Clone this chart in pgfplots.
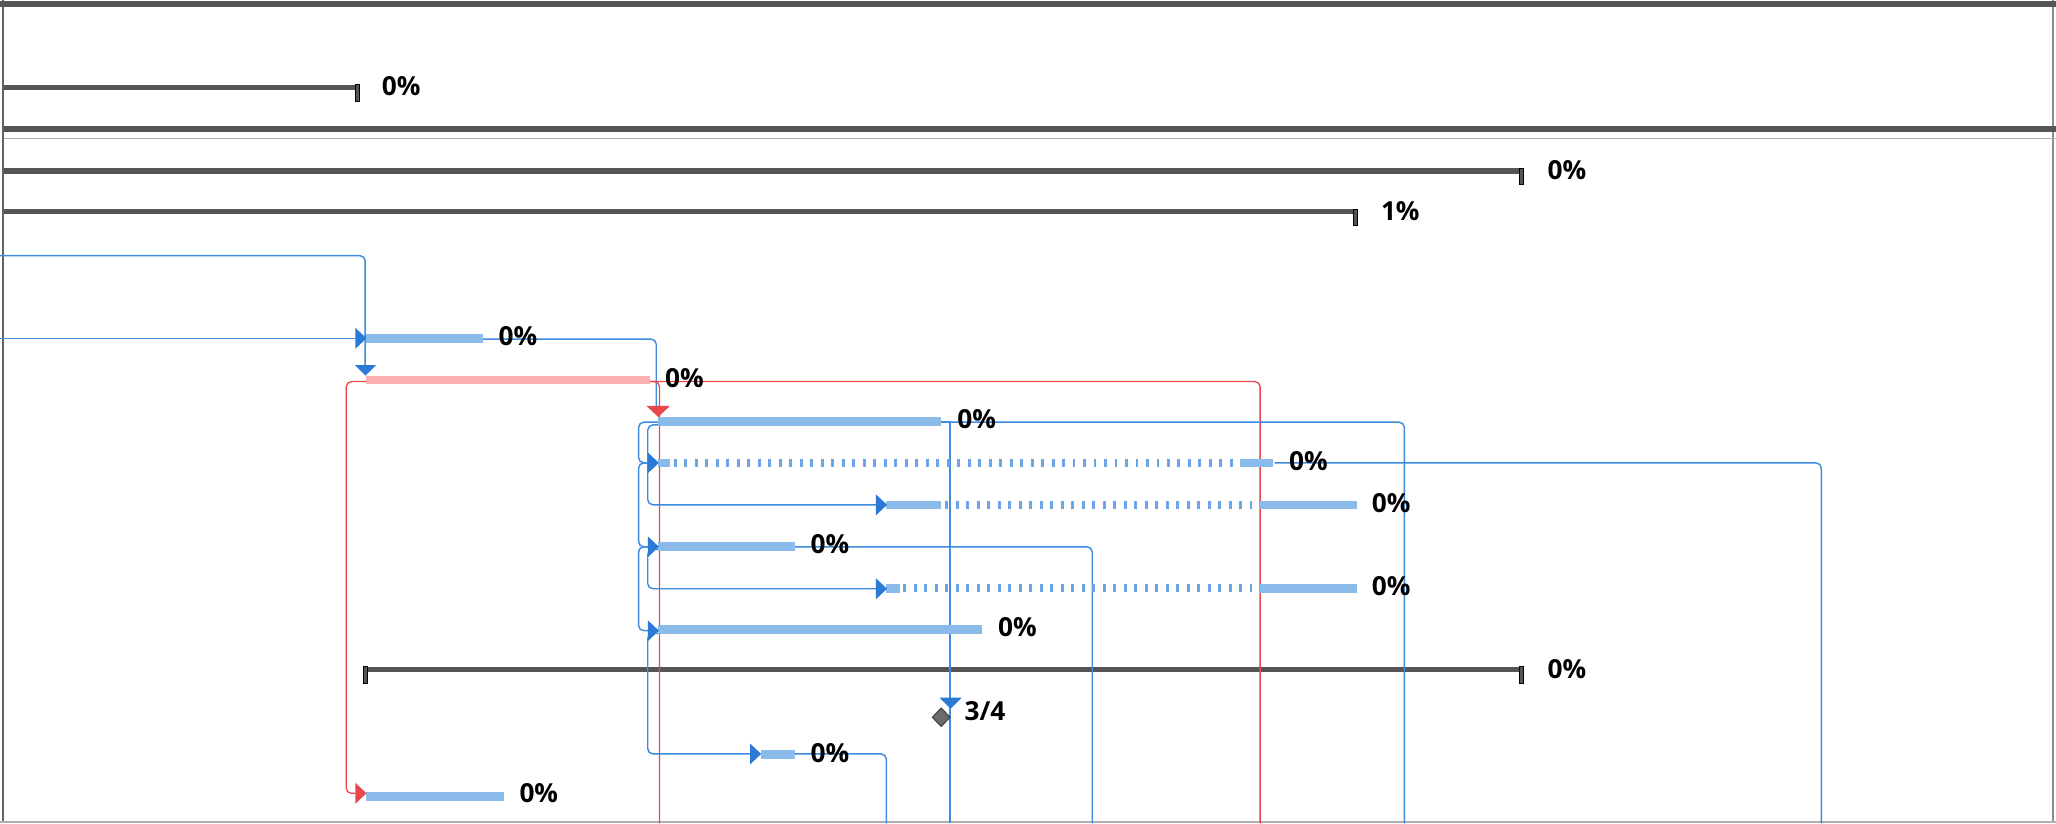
\documentclass[border=0pt]{standalone}
\usepackage{pgfplots}
\pgfplotsset{compat=1.18}
\usepackage{fontspec}
\setmainfont{Open Sans}
\definecolor{sumgray}{HTML}{555555}
\definecolor{barblue}{HTML}{8BBBEB}
\definecolor{linkblue}{HTML}{3E8BE0}
\definecolor{arrowblue}{HTML}{2B7BD6}
\definecolor{critred}{HTML}{E8474C}
\definecolor{pinkbar}{HTML}{FDB2B2}
\definecolor{dotblue}{HTML}{6AA3E6}
\definecolor{framegray}{HTML}{8C8C8C}
\begin{document}
\begin{tikzpicture}
\tikzset{lab/.style={anchor=west, inner sep=0pt, font=\fontsize{20}{24}\selectfont\bfseries},
 sumbar/.style={draw=sumgray, line width=4.5pt, line cap=butt},
 taskbar/.style={draw=barblue, line width=6.5pt, line cap=butt},
 dotbar/.style={draw=dotblue, line width=6pt, line cap=butt, dash pattern=on 2.2pt off 5.8pt},
 lnk/.style={draw=linkblue, line width=1.1pt, rounded corners=4pt},
 rlnk/.style={draw=critred, line width=1pt, rounded corners=4pt},
 endtick/.style={fill=sumgray, draw=black, line width=0.6pt},
 arr/.style={fill=arrowblue, draw=none},
 rarr/.style={fill=critred, draw=none}}
\begin{axis}[scale only axis, width=1568pt, height=628pt,
  xmin=0, xmax=1568, ymin=0, ymax=628, y dir=reverse, hide axis, clip=true]
% frame
\addplot[draw=framegray!70!black, line width=1.8pt] coordinates {(2.5,0) (2.5,628)};
\addplot[draw=framegray, line width=1.5pt] coordinates {(1566,0) (1566,628)};
\addplot[draw=framegray!70, line width=1.5pt] coordinates {(0,627) (1568,627)};
\addplot[sumbar] coordinates {(0,3) (1568,3)};
\addplot[sumbar] coordinates {(3,98.5) (1568,98.5)};
\addplot[draw=framegray!70, line width=1.2pt] coordinates {(3,105.5) (1568,105.5)};
% summary bars
\addplot[sumbar, line width=4pt] coordinates {(3,66.5) (272,66.5)};
\addplot[endtick] coordinates {(271,64.5) (274,64.5) (274,77) (271,77)} --cycle;
\addplot[sumbar, line width=4pt] coordinates {(3,130.5) (1160,130.5)};
\addplot[endtick] coordinates {(1159,128.5) (1162,128.5) (1162,141) (1159,141)} --cycle;
\addplot[sumbar, line width=4pt] coordinates {(3,161.5) (1033,161.5)};
\addplot[endtick] coordinates {(1032,159.5) (1035,159.5) (1035,172) (1032,172)} --cycle;
\addplot[sumbar, line width=4pt] coordinates {(279,510.7) (1160,510.7)};
\addplot[endtick] coordinates {(277.5,508.5) (280.5,508.5) (280.5,521.5) (277.5,521.5)} --cycle;
\addplot[endtick] coordinates {(1159,508.5) (1162,508.5) (1162,521.5) (1159,521.5)} --cycle;
% link lines (drawn under bars)
\addplot[lnk] coordinates {(0,195) (278.5,195) (278.5,279)};
\addplot[lnk] coordinates {(0,258) (271,258)};
\addplot[lnk] coordinates {(368,258.6) (500.5,258.6) (500.5,311)};
\addplot[rlnk] coordinates {(495,291) (503,291) (503,628)};
\addplot[rlnk] coordinates {(495,291) (961,291) (961,628)};
\addplot[rlnk] coordinates {(279,291) (264,291) (264,605) (271,605)};
\addplot[lnk] coordinates {(718,322) (1071,322) (1071,628)};
\addplot[lnk, rounded corners=0pt] coordinates {(718,322) (724.5,322) (724.5,628)};
\addplot[lnk] coordinates {(502,322) (487,322) (487,353) (494,353)};
\addplot[lnk] coordinates {(494,353) (487,353) (487,417) (494,417)};
\addplot[lnk] coordinates {(494,417) (487,417) (487,481) (494,481)};
\addplot[lnk] coordinates {(502,324) (494,324) (494,385) (668,385)};
\addplot[lnk] coordinates {(502,419) (494,419) (494,449) (668,449)};
\addplot[lnk] coordinates {(502,483) (494,483) (494,575) (572,575)};
\addplot[lnk] coordinates {(972,353) (1389,353) (1389,628)};
\addplot[lnk] coordinates {(606,417) (833,417) (833,628)};
\addplot[lnk] coordinates {(606,575) (676,575) (676,628)};
% task bars
\addplot[taskbar] coordinates {(279,258.2) (368,258.2)};
\addplot[draw=pinkbar, line width=6.5pt] coordinates {(279,289.8) (495.6,289.8)};
\addplot[taskbar] coordinates {(502,321.5) (718,321.5)};
\addplot[taskbar] coordinates {(502,353.2) (511,353.2)};
\addplot[dotbar] coordinates {(514,353.2) (946,353.2)};
\addplot[taskbar] coordinates {(946,353.2) (971,353.2)};
\addplot[taskbar] coordinates {(676,385) (718,385)};
\addplot[dotbar] coordinates {(721,385) (961,385)};
\addplot[taskbar] coordinates {(961,385) (1035,385)};
\addplot[taskbar] coordinates {(502,416.7) (606,416.7)};
\addplot[taskbar] coordinates {(676,448.7) (686,448.7)};
\addplot[dotbar] coordinates {(689,448.7) (961,448.7)};
\addplot[taskbar] coordinates {(961,448.7) (1035,448.7)};
\addplot[taskbar] coordinates {(502,480) (749,480)};
\addplot[taskbar] coordinates {(580,575.5) (606,575.5)};
\addplot[taskbar] coordinates {(279,607.6) (384,607.6)};
% arrows
\addplot[arr] coordinates {(270.7,278.4) (286.9,278.4) (278.8,286.5)} --cycle;
\addplot[arr] coordinates {(271,250) (279.5,258) (271,266)} --cycle;
\addplot[arr] coordinates {(494,345) (502.5,353) (494,361)} --cycle;
\addplot[arr] coordinates {(668,377) (676.5,385) (668,393)} --cycle;
\addplot[arr] coordinates {(494,409) (502.5,417) (494,425)} --cycle;
\addplot[arr] coordinates {(668,441) (676.5,449) (668,457)} --cycle;
\addplot[arr] coordinates {(494,473) (502.5,481) (494,489)} --cycle;
\addplot[arr] coordinates {(572,567) (580.5,575) (572,583)} --cycle;
\addplot[rarr] coordinates {(271,597) (279.5,605) (271,613)} --cycle;
\addplot[rarr] coordinates {(493,309.6) (511,309.6) (502,318)} --cycle;
\addplot[arr] coordinates {(716.5,532) (733.5,532) (725,540.5)} --cycle;
% milestone
\addplot[fill=black!58, draw=black!75, line width=0.8pt] coordinates {(717.8,540) (724.6,547) (717.8,554) (711,547)} --cycle;
% labels
\node[lab] at (axis cs:291,66) {0\%};
\node[lab] at (axis cs:1180,129.5) {0\%};
\node[lab] at (axis cs:1053,161) {1\%};
\node[lab] at (axis cs:380,256) {0\%};
\node[lab] at (axis cs:507,288) {0\%};
\node[lab] at (axis cs:730,320) {0\%};
\node[lab] at (axis cs:983,351.5) {0\%};
\node[lab] at (axis cs:1046,383.5) {0\%};
\node[lab] at (axis cs:618,415) {0\%};
\node[lab] at (axis cs:1046,447) {0\%};
\node[lab] at (axis cs:761,478.5) {0\%};
\node[lab] at (axis cs:1180,510) {0\%};
\node[lab] at (axis cs:735.5,542.5) {3/4};
\node[lab] at (axis cs:618,574) {0\%};
\node[lab] at (axis cs:396,605) {0\%};
\end{axis}
\end{tikzpicture}
\end{document}
